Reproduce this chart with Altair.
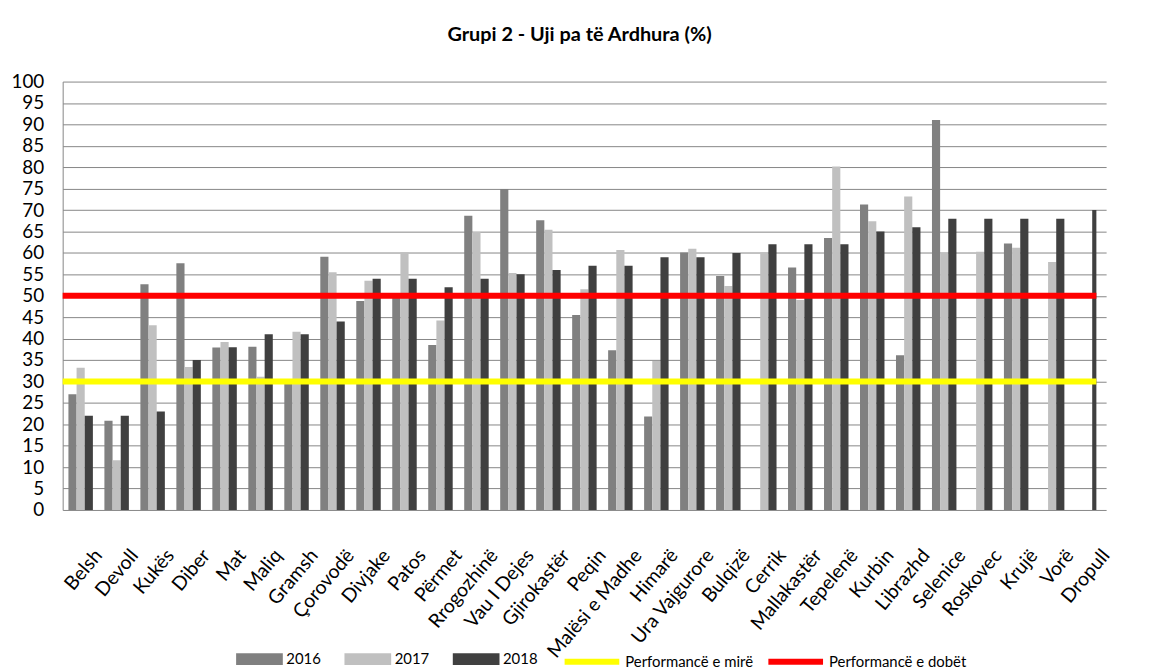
import altair as alt
import pandas as pd

categories = ["Belsh", "Devoll", "Kukës", "Diber", "Mat", "Maliq", "Gramsh", "Çorovodë",
              "Divjake", "Patos", "Përmet", "Rrogozhinë", "Vau I Dejes", "Gjirokastër",
              "Peqin", "Malësi e Madhe", "Himarë", "Ura Vajgurore", "Bulqizë", "Cerrik",
              "Mallakastër", "Tepelenë", "Kurbin", "Librazhd", "Selenice", "Roskovec",
              "Krujë", "Vorë", "Dropull"]
years = ["2016", "2017", "2018"]
v2016 = [27, 20.8, 52.7, 57.6, 37.9, 38.1, 30, 59.1, 48.8, 50, 38.5, 68.7, 74.9, 67.6,
         45.5, 37.3, 21.8, 60.1, 54.6, None, 56.6, 63.5, 71.3, 36.1, 91.0, None, 62.2, None, None]
v2017 = [33.2, 11.6, 43.1, 33.4, 39.2, 31.1, 41.6, 55.5, 53.5, 60.1, 44.2, 64.9, 55.3, 65.4,
         51.5, 60.7, 34.8, 61.0, 52.3, 60.1, 49.0, 80.2, 67.4, 73.2, 60.0, 60.3, 61.2, 57.9, None]
v2018 = [22, 22, 23, 35, 38, 41, 41, 44, 54, 54, 52, 54, 55, 56, 57, 57, 59, 59, 60, 62,
         62, 62, 65, 66, 68, 68, 68, 68, 70]
year_colors = ["#808080", "#c0c0c0", "#404040"]
perf_names = ["Performancë e mirë", "Performancë e dobët"]
perf_values = [30, 50]
perf_colors = ["#ffff00", "#ff0000"]
y_ticks = list(range(0, 101, 5))

rows = []
for i, c in enumerate(categories):
    for yr, vals in zip(years, [v2016, v2017, v2018]):
        if vals[i] is not None:
            rows.append({"cat": c, "year": yr, "val": vals[i]})
df = pd.DataFrame(rows)
perf_df = pd.DataFrame({"name": perf_names, "val": perf_values})

FONT = "Lato"
W, H = 1040, 431
STEP = 36.2

y_axis = alt.Axis(title=None, values=y_ticks, tickCount=30, labelFontSize=19, labelFont=FONT,
                  labelColor="black", ticks=False, labelPadding=19,
                  labelOverlap=False, labelFlush=False,
                  domainColor="#868686", gridColor="#868686", gridWidth=1)
y_scale = alt.Scale(domain=[0, 100], nice=False)

bars = alt.Chart(df).mark_bar(clip=True).encode(
    x=alt.X("cat:N", sort=categories,
            scale=alt.Scale(domain=categories, range=[0, STEP * len(categories)],
                            paddingInner=0.32, paddingOuter=0.16),
            axis=alt.Axis(title=None, labelAngle=-50, labelFontSize=19.5, labelFont=FONT,
                          labelColor="black", domain=False, ticks=False, labelPadding=42,
                          labelOffset=18, labelAlign="right", labelBaseline="middle",
                          labelOverlap=False, labelLimit=300)),
    xOffset=alt.XOffset("year:N", sort=years,
                        scale=alt.Scale(domain=years, paddingInner=0, paddingOuter=0)),
    y=alt.Y("val:Q", scale=y_scale, axis=y_axis),
    fill=alt.Fill("year:N", sort=years,
                  scale=alt.Scale(domain=years, range=year_colors),
                  legend=alt.Legend(title=None, orient="none", legendX=186, legendY=569,
                                    direction="horizontal",
                                    symbolType="M-2,-0.5H2V0.5H-2Z", symbolSize=552,
                                    symbolStrokeWidth=0, labelFont=FONT, labelFontSize=15,
                                    labelColor="black", labelOffset=15, columnPadding=23)),
)

rules = alt.Chart(perf_df).mark_rule(strokeWidth=6).encode(
    y=alt.Y("val:Q", scale=y_scale, axis=y_axis),
    stroke=alt.Stroke("name:N", sort=perf_names,
                      scale=alt.Scale(domain=perf_names, range=perf_colors),
                      legend=alt.Legend(title=None, orient="none", legendX=502, legendY=553,
                                        direction="horizontal", symbolType="stroke",
                                        symbolSize=3025, symbolStrokeWidth=6,
                                        labelFont=FONT, labelFontSize=15, labelColor="black",
                                        labelOffset=3, columnPadding=3)),
)

chart = alt.layer(bars, rules).properties(
    width=W, height=H,
    title=alt.Title("Grupi 2 - Uji pa të Ardhura (%)", font=FONT, fontSize=20,
                    fontWeight="bold", color="black", anchor="middle", offset=28),
    padding={"left": 55, "top": 72, "right": 62, "bottom": 159},
    autosize=alt.AutoSizeParams(type="none"),
    background="white",
).configure_view(stroke=None)

chart.save("out.html", embed_options={"renderer": "svg", "actions": False})
